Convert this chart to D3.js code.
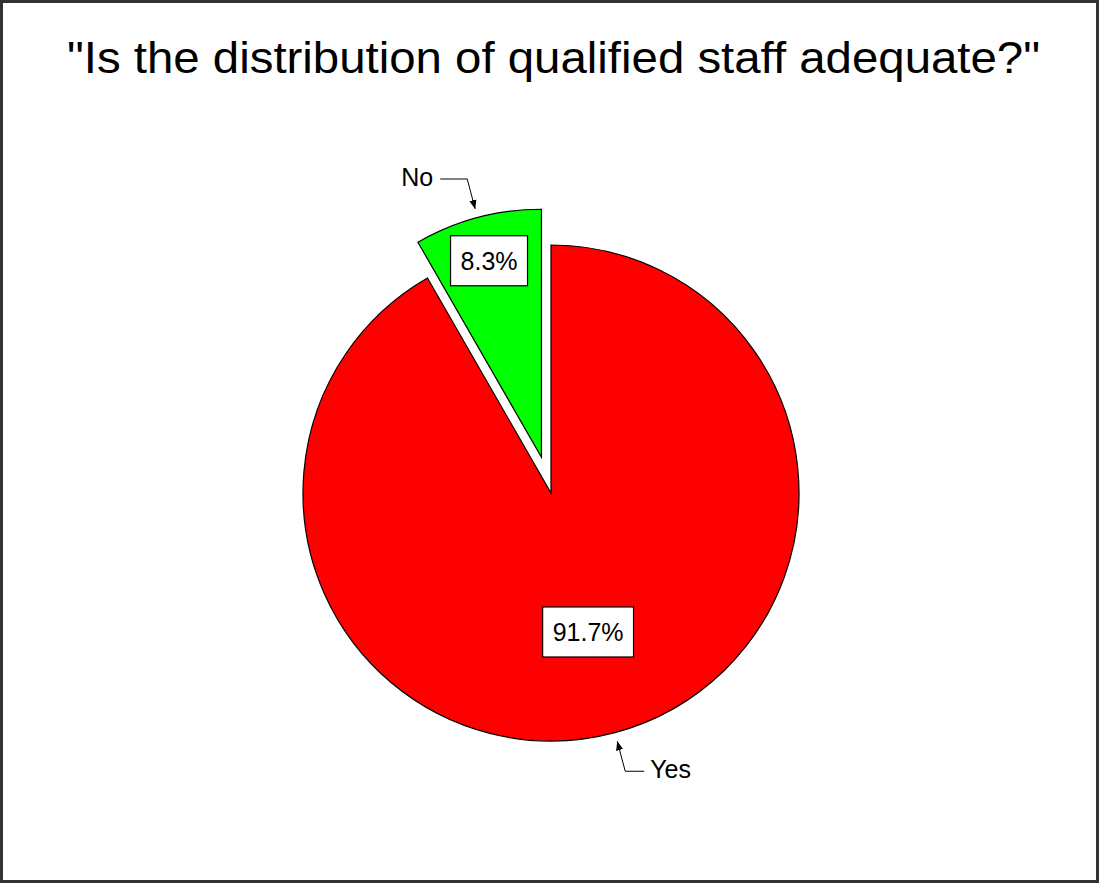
<!DOCTYPE html>
<html lang="en">
<head>
    <meta charset="UTF-8">
    <title>Distribution of qualified staff</title>
    <script src="https://d3js.org/d3.v7.min.js"></script>
    <style>
        body { margin: 0; background: #fff; }
        text { font-family: "Liberation Sans", Arial, sans-serif; fill: #000; }
        .slice { stroke: #000; stroke-width: 1.2; }
        .leader { fill: none; stroke: #000; stroke-width: 1; }
        .pct-box { fill: #fff; stroke: #000; stroke-width: 1.2; }
    </style>
</head>
<body>
<script>
    const width = 1099;
    const height = 884;

    const title = "\"Is the distribution of qualified staff adequate?\"";
    const categories = ["Yes", "No"];
    const values = [91.7, 8.3];
    const colors = ["#ff0000", "#00ff00"];
    const exploded = ["No"];

    const svg = d3.select("body").append("svg")
        .attr("width", width).attr("height", height);

    // frame
    svg.append("rect")
        .attr("x", 1.5).attr("y", 1.5)
        .attr("width", width - 3).attr("height", height - 4)
        .attr("fill", "#fff").attr("stroke", "#333").attr("stroke-width", 3);

    svg.append("text")
        .attr("x", 67).attr("y", 73)
        .attr("font-size", 44)
        .attr("textLength", 973)
        .attr("lengthAdjust", "spacingAndGlyphs")
        .text(title);

    const cx = 551, cy = 493, r = 248;
    const explode = 37;

    const data = categories.map((c, i) => ({ name: c, value: values[i], color: colors[i] }));

    const pie = d3.pie().sort(null).value(d => d.value);
    const arc = d3.arc().innerRadius(0).outerRadius(r);
    const arcs = pie(data);

    const g = svg.append("g").attr("transform", `translate(${cx},${cy})`);

    svg.append("defs").append("marker")
        .attr("id", "arrow")
        .attr("viewBox", "0 0 10 10")
        .attr("refX", 10).attr("refY", 5)
        .attr("markerWidth", 9).attr("markerHeight", 9)
        .attr("markerUnits", "userSpaceOnUse")
        .attr("orient", "auto")
        .append("path").attr("d", "M0,1 L10,5 L0,9 Z").attr("fill", "#000");

    // polar point helper, angle measured clockwise from top
    const polar = (a, rad) => [Math.sin(a) * rad, -Math.cos(a) * rad];

    const slices = g.selectAll("g.slice-g")
        .data(arcs)
        .enter().append("g")
        .attr("class", "slice-g")
        .attr("transform", d => {
            const mid = (d.startAngle + d.endAngle) / 2;
            const off = exploded.includes(d.data.name) ? explode : 0;
            const [x, y] = polar(mid, off);
            return `translate(${x},${y})`;
        });

    slices.append("path")
        .attr("class", "slice")
        .attr("fill", d => d.data.color)
        .attr("d", arc);

    // percentage boxes
    slices.each(function(d) {
        const sel = d3.select(this);
        const mid = (d.startAngle + d.endAngle) / 2;
        const frac = d.data.name === "No" ? 0.82 : 0.58;
        const [x, y] = polar(mid, r * frac);
        const label = d.data.value.toFixed(1) + "%";
        const t = sel.append("text")
            .attr("x", x).attr("y", y + 9)
            .attr("text-anchor", "middle")
            .attr("font-size", 25)
            .text(label);
        const w = t.node().getComputedTextLength() + 20;
        sel.insert("rect", "text")
            .attr("class", "pct-box")
            .attr("x", x - w / 2).attr("y", y - 25)
            .attr("width", w).attr("height", 50);

        // outside category label with leader
        const tip = polar(mid, r + 9);
        const elbow = polar(mid, r + 40);
        const left = Math.sin(mid) < 0;
        const end = [elbow[0] + (left ? -27 : 19), elbow[1]];
        sel.append("path")
            .attr("class", "leader")
            .attr("marker-end", "url(#arrow)")
            .attr("d", d3.line()([end, elbow, tip]));
        sel.append("text")
            .attr("x", end[0] + (left ? -7 : 6))
            .attr("y", end[1] + 7)
            .attr("text-anchor", left ? "end" : "start")
            .attr("font-size", 25)
            .text(d.data.name);
    });
</script>
</body>
</html>
